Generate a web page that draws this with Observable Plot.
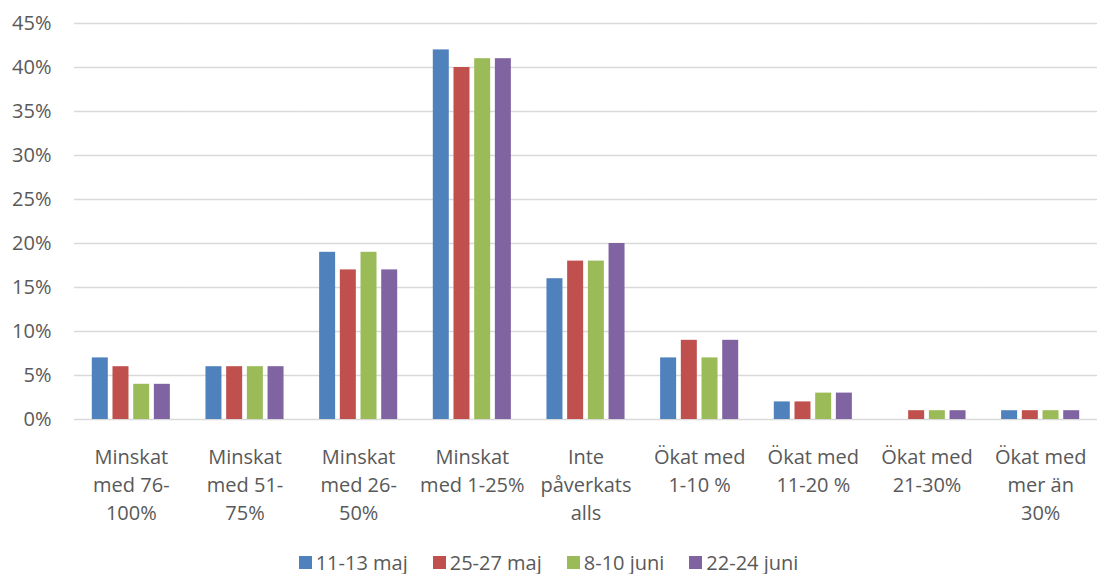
<!DOCTYPE html>
<html>
<head>
<meta charset="utf-8">
<script src="https://cdn.jsdelivr.net/npm/d3@7"></script>
<script src="https://cdn.jsdelivr.net/npm/@observablehq/plot@0.6"></script>
<style>
  html, body { margin: 0; padding: 0; background: #fff; }
  body { width: 1097px; height: 574px; overflow: hidden; font-family: "Open Sans", sans-serif; }
  #legend { display: flex; justify-content: center; align-items: center; gap: 25px; font-size: 20px; color: #595959; height: 24px; margin-top: 20px; }
  #legend .item { display: flex; align-items: center; }
  #legend .sw { width: 13px; height: 13px; margin-right: 4px; display: inline-block; }
</style>
</head>
<body>
<div id="chart"></div>
<div id="legend"></div>
<script>
const categories = [
  "Minskat med 76-100%", "Minskat med 51-75%", "Minskat med 26-50%", "Minskat med 1-25%",
  "Inte påverkats alls", "Ökat med 1-10 %", "Ökat med 11-20 %", "Ökat med 21-30%", "Ökat med mer än 30%"
];
const categoryLabels = [
  "Minskat\nmed 76-\n100%", "Minskat\nmed 51-\n75%", "Minskat\nmed 26-\n50%", "Minskat\nmed 1-25%",
  "Inte\npåverkats\nalls", "Ökat med\n1-10 %", "Ökat med\n11-20 %", "Ökat med\n21-30%", "Ökat med\nmer än\n30%"
];
const series = ["11-13 maj", "25-27 maj", "8-10 juni", "22-24 juni"];
const colors = ["#4F81BD", "#C0504D", "#9BBB59", "#8064A2"];
const values_11_13_maj  = [7, 6, 19, 42, 16, 7, 2, null, 1];
const values_25_27_maj  = [6, 6, 17, 40, 18, 9, 2, 1, 1];
const values_8_10_juni  = [4, 6, 19, 41, 18, 7, 3, 1, 1];
const values_22_24_juni = [4, 6, 17, 41, 20, 9, 3, 1, 1];
const yTicks = [0, 5, 10, 15, 20, 25, 30, 35, 40, 45];

const seriesValues = [values_11_13_maj, values_25_27_maj, values_8_10_juni, values_22_24_juni];
const data = [];
categories.forEach((c, i) => {
  series.forEach((s, j) => {
    const v = seriesValues[j][i];
    if (v != null) data.push({category: c, series: s, value: v});
  });
});
const labelOf = new Map(categories.map((c, i) => [c, categoryLabels[i]]));

const chart = Plot.plot({
  width: 1097,
  height: 530,
  marginLeft: 74,
  marginRight: 0,
  marginTop: 23,
  marginBottom: 111,
  style: {fontFamily: "Open Sans, sans-serif", fontSize: "20px", color: "#595959", background: "#fff"},
  fx: {domain: categories, paddingInner: 0, paddingOuter: 0, round: false, axis: null, label: null},
  x: {domain: series, paddingInner: 0.227, paddingOuter: 0.86, round: false, axis: null, label: null},
  y: {domain: [0, 45], label: null, axis: null},
  color: {domain: series, range: colors},
  marks: [
    Plot.ruleY(yTicks, {stroke: "#d9d9d9", strokeWidth: 1.5}),
    Plot.barY(data, {fx: "category", x: "series", y: "value", fill: "series", inset: 0}),
    Plot.axisY({ticks: yTicks, tickFormat: d => d + "%", tickSize: 0, tickPadding: 23, fontSize: 20, fill: "#595959", label: null}),
    Plot.text(categories, {fx: d => d, text: d => labelOf.get(d), frameAnchor: "bottom", lineAnchor: "top", dy: 24, lineHeight: 1.415, fontSize: 20, fill: "#595959"})
  ]
});
document.getElementById("chart").appendChild(chart);

const legend = document.getElementById("legend");
series.forEach((s, i) => {
  const item = document.createElement("div");
  item.className = "item";
  const sw = document.createElement("span");
  sw.className = "sw";
  sw.style.background = colors[i];
  item.appendChild(sw);
  item.appendChild(document.createTextNode(s));
  legend.appendChild(item);
});
</script>
</body>
</html>
